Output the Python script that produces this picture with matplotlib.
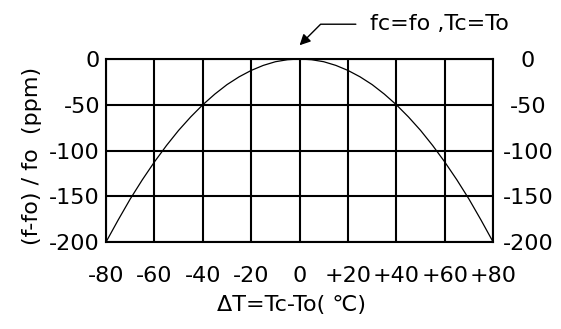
import matplotlib.pyplot as plt
import matplotlib.transforms as mtransforms
import numpy as np

# frequency deviation vs. temperature offset (read every 5 degC)
dT = np.array([-80, -75, -70, -65, -60, -55, -50, -45, -40, -35, -30, -25, -20, -15, -10, -5,
               0, 5, 10, 15, 20, 25, 30, 35, 40, 45, 50, 55, 60, 65, 70, 75, 80])
dev = np.array([-200, -176, -153, -132, -112.5, -94.5, -78, -63.3, -50, -38.3, -28, -19.5, -12.5, -7, -3, -0.8,
                0, -0.8, -3, -7, -12.5, -19.5, -28, -38.3, -50, -63.3, -78, -94.5, -112.5, -132, -153, -176, -200])

xticks = [-80, -60, -40, -20, 0, 20, 40, 60, 80]
xlabels = ['-80', '-60', '-40', '-20', '0', '+20', '+40', '+60', '+80']
yticks = [0, -50, -100, -150, -200]
ylabels = ['0', '-50', '-100', '-150', '-200']

plt.rcParams['font.family'] = ['DejaVu Sans']
fs = 16

fig = plt.figure(figsize=(5.61, 3.29), dpi=100)
ax = fig.add_axes([0.189, 0.2644, 0.690, 0.5563])

ax.plot(dT, dev, c='black', lw=0.9)

ax.set_xlim(-80, 80)
ax.set_ylim(-200, 0)
ax.set_xticks(xticks)
ax.set_xticklabels(xlabels, fontsize=fs)
ax.set_yticks(yticks)
ax.set_yticklabels(ylabels, fontsize=fs)
ax.tick_params(axis='both', length=0)
ax.tick_params(axis='x', pad=17)
ax.tick_params(axis='y', pad=4.3, labelright=True)
ax.grid(True, color='black', lw=1.5)
for s in ax.spines.values():
    s.set_linewidth(1.5)

# right-hand labels are centred in their column
offset = mtransforms.ScaledTranslation(29 / 100, 0, fig.dpi_scale_trans)
for tick in ax.yaxis.get_major_ticks():
    tick.label2.set_horizontalalignment('center')
    tick.label2.set_transform(tick.label2.get_transform() + offset)

ax.set_xlabel('ΔT=Tc-To( ℃)', fontsize=fs)
ax.xaxis.set_label_coords(0.48, -0.29)
ax.set_ylabel('(f-fo) / fo  (ppm)', fontsize=fs)
ax.yaxis.set_label_coords(-0.165, 0.47)

ax.annotate('fc=fo ,Tc=To', xy=(0, 15), xytext=(29, 38), fontsize=fs,
            ha='left', va='center', annotation_clip=False,
            arrowprops=dict(arrowstyle='-|>', color='black', lw=1.0,
                            mutation_scale=16, relpos=(0, 0.5), shrinkA=8, shrinkB=0,
                            connectionstyle='angle,angleA=0,angleB=45,rad=0'))

fig.savefig('out.png', dpi=100)
